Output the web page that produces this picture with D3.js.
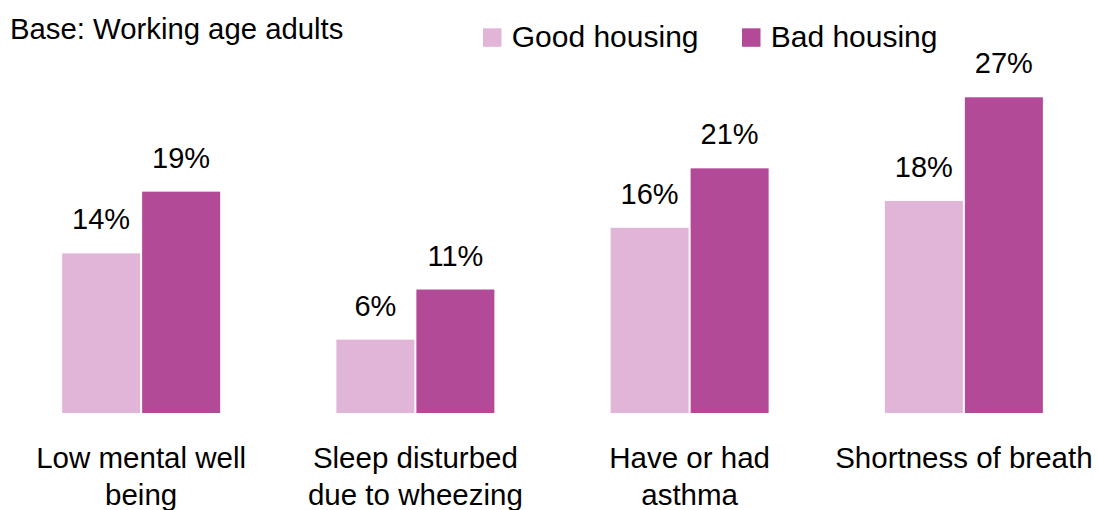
<!DOCTYPE html>
<html>
<head>
<meta charset="utf-8">
<script src="https://cdn.jsdelivr.net/npm/d3@7"></script>
<style>
  html, body { margin: 0; padding: 0; background: #fff; }
  svg { display: block; font-family: "Liberation Sans", Arial, sans-serif; }
</style>
</head>
<body>
<svg id="chart" width="1098" height="510"></svg>
<script>
const categories = [
  ["Low mental well", "being"],
  ["Sleep disturbed", "due to wheezing"],
  ["Have or had", "asthma"],
  ["Shortness of breath"]
];
const seriesNames = ["Good housing", "Bad housing"];
const goodHousing = [13.7, 6.3, 15.9, 18.2];
const badHousing  = [19.0, 10.6, 21.0, 27.1];
const baseTitle = "Base: Working age adults";

const colors = ["#e1b5d7", "#b34a98"];
const svg = d3.select("#chart");

const catIdx = d3.range(categories.length);
const x0 = d3.scaleBand().domain(catIdx).range([4, 1101]).padding(0);
const groupW = 158;
const x1 = d3.scaleBand().domain(seriesNames).range([0, groupW]).paddingInner(0.025).paddingOuter(0);
const y = d3.scaleLinear().domain([0, 30]).range([413, 413 - 11.65 * 30]);

const rows = catIdx.map(i => ({ i, values: [goodHousing[i], badHousing[i]] }));
const fmt = v => d3.format(".0f")(v) + "%";

const groups = svg.selectAll("g.grp").data(rows).join("g")
  .attr("class", "grp")
  .attr("transform", d => `translate(${x0(d.i) + x0.bandwidth() / 2 - groupW / 2},0)`);

groups.selectAll("rect").data(d => d.values.map((v, k) => ({ v, k })))
  .join("rect")
  .attr("x", d => x1(seriesNames[d.k]))
  .attr("width", x1.bandwidth())
  .attr("y", d => y(d.v))
  .attr("height", d => y(0) - y(d.v))
  .attr("fill", d => colors[d.k]);

groups.selectAll("text.val").data(d => d.values.map((v, k) => ({ v, k })))
  .join("text")
  .attr("class", "val")
  .attr("x", d => x1(seriesNames[d.k]) + x1.bandwidth() / 2)
  .attr("y", d => y(d.v) - 24)
  .attr("text-anchor", "middle")
  .attr("font-size", 29)
  .attr("fill", "#000")
  .text(d => fmt(d.v));

// category labels
const catG = svg.selectAll("text.cat").data(rows).join("text")
  .attr("class", "cat")
  .attr("text-anchor", "middle")
  .attr("font-size", 29.5)
  .attr("fill", "#000")
  .attr("transform", d => `translate(${x0(d.i) + x0.bandwidth() / 2},468)`);
catG.selectAll("tspan").data(d => categories[d.i]).join("tspan")
  .attr("x", 0)
  .attr("y", (d, j) => j * 37)
  .text(d => d);

// title
svg.append("text")
  .attr("x", 10).attr("y", 39)
  .attr("font-size", 29.3)
  .attr("fill", "#000")
  .text(baseTitle);

// legend
const legendX = [483, 742];
const leg = svg.selectAll("g.leg").data(seriesNames).join("g")
  .attr("class", "leg")
  .attr("transform", (d, k) => `translate(${legendX[k]},28.3)`);
leg.append("rect").attr("width", 18.5).attr("height", 18.5).attr("fill", (d, k) => colors[k]);
leg.append("text").attr("x", 28.7).attr("y", 18.4)
  .attr("font-size", 30).attr("fill", "#000").text(d => d);
</script>
</body>
</html>
